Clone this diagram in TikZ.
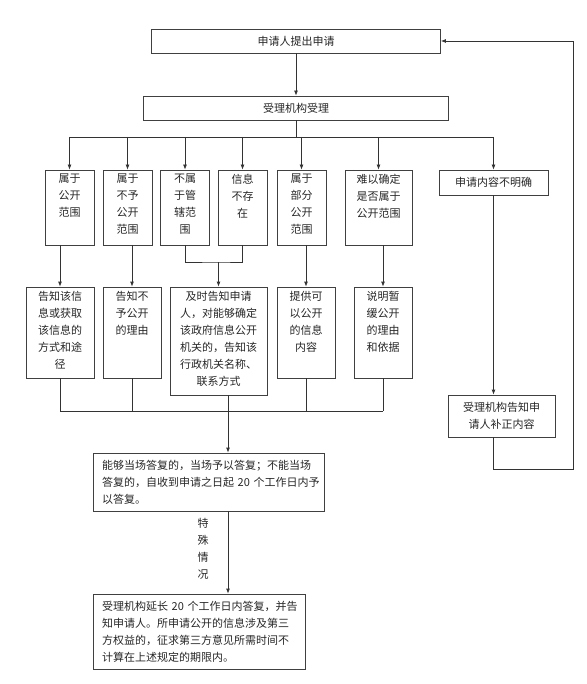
\documentclass[tikz,border=0pt]{standalone}
\usepackage{fontspec}
\setmainfont{Noto Sans CJK SC}
\usetikzlibrary{arrows.meta}

\begin{document}
\begin{tikzpicture}[x=1pt,y=-1pt,
  box/.style={draw=black!75, line width=0.8pt, inner sep=3pt, align=center, text=black!85, font=\fontsize{11}{17}\selectfont},
  toptext/.style={label={[anchor=north, inner sep=4pt, align=center, text=black!85, font=\fontsize{11}{17}\selectfont]north:{#1}}},
  arr/.style={-{Latex[length=5pt,width=4pt]}},
  line/.style={draw=black!80, line width=0.8pt}]
\useasboundingbox (0,0) rectangle (586,684);

\node[box, minimum width=289, minimum height=24] (apply) at (296,41) {申请人提出申请};
\node[box, minimum width=305, minimum height=24] (accept) at (296,108) {受理机构受理};

% first row of cases
\node[box, minimum width=49, minimum height=75, toptext={属于\\公开\\范围}] (b1) at (69.5,207.5) {};
\node[box, minimum width=49, minimum height=75, toptext={属于\\不予\\公开\\范围}] (b2) at (127.5,207.5) {};
\node[box, minimum width=49, minimum height=75, toptext={不属\\于管\\辖范\\围}] (b3) at (185,207.5) {};
\node[box, minimum width=49, minimum height=75, toptext={信息\\不存\\在}] (b4) at (242.5,207.5) {};
\node[box, minimum width=49, minimum height=75, toptext={属于\\部分\\公开\\范围}] (b5) at (301.5,207.5) {};
\node[box, minimum width=67, minimum height=75, toptext={难以确定\\是否属于\\公开范围}] (b6) at (378.5,207.5) {};
\node[box, minimum width=109, minimum height=25] (b7) at (493.5,182.5) {申请内容不明确};

% second row
\node[box, minimum width=68, minimum height=91, toptext={告知该信\\息或获取\\该信息的\\方式和途\\径}] (c1) at (60,332.5) {};
\node[box, minimum width=58, minimum height=91, toptext={告知不\\予公开\\的理由}] (c2) at (132,332.5) {};
\node[box, minimum width=97, minimum height=108, toptext={及时告知申请\\人，对能够确定\\该政府信息公开\\机关的，告知该\\行政机关名称、\\联系方式}] (c3) at (218.5,341) {};
\node[box, minimum width=58, minimum height=91, toptext={提供可\\以公开\\的信息\\内容}] (c4) at (306,332.5) {};
\node[box, minimum width=58, minimum height=91, toptext={说明暂\\缓公开\\的理由\\和依据}] (c5) at (383,332.5) {};
\node[box, minimum width=107, minimum height=42] (e1) at (501.5,416) {受理机构告知申\\请人补正内容};

% replies
\node[box, align=left, text width=213, inner xsep=9pt, minimum height=58] (d1) at (208.5,482)
  {能够当场答复的，当场予以答复；不能当场\\答复的，自收到申请之日起~20~个工作日内予\\以答复。};
\node[box, align=left, text width=194, inner xsep=9pt, minimum height=75] (d2) at (199,631.5)
  {受理机构延长~20~个工作日内答复，并告\\知申请人。所申请公开的信息涉及第三\\方权益的，征求第三方意见所需时间不\\计算在上述规定的期限内。};
\node[align=center, text=black!85, font=\fontsize{11}{17}\selectfont] (special) at (203,549) {特\\殊\\情\\况};

\coordinate (bus) at (296,137);
\coordinate (j1) at (218.5,262);
\coordinate (j2) at (228,411);
\coordinate (loop) at (573,469);

\draw[line,arr] (apply) -- (accept);
\draw[line] (accept.south) -- (bus);
\draw[line] (b1.north |- bus) -- (b7.north |- bus);
\foreach \n in {b1,b2,b3,b4,b5,b6,b7}
  \draw[line,arr] (\n.north |- bus) -- (\n.north);

\draw[line,arr] (c1.north |- b1.south) -- (c1.north);
\draw[line,arr] (c2.north |- b2.south) -- (c2.north);
\draw[line] (b3.south) |- (j1) -| (b4.south);
\draw[line,arr] (j1) -- (c3.north);
\draw[line,arr] (c4.north |- b5.south) -- (c4.north);
\draw[line,arr] (c5.north |- b6.south) -- (c5.north);
\draw[line,arr] (b7.south) -- (b7.south |- e1.north);

\draw[line] (c1.south |- j2) -- (c5.south |- j2);
\foreach \n in {c1,c2,c4,c5}
  \draw[line] (\n.south) -- (\n.south |- j2);
\draw[line] (j2 |- c3.south) -- (j2);
\draw[line,arr] (j2) -- (j2 |- d1.north);
\draw[line,arr] (j2 |- d1.south) -- (j2 |- d2.north);

\draw[line,arr] (b7.south |- e1.south) |- (loop) |- (apply.east);
\end{tikzpicture}
\end{document}
